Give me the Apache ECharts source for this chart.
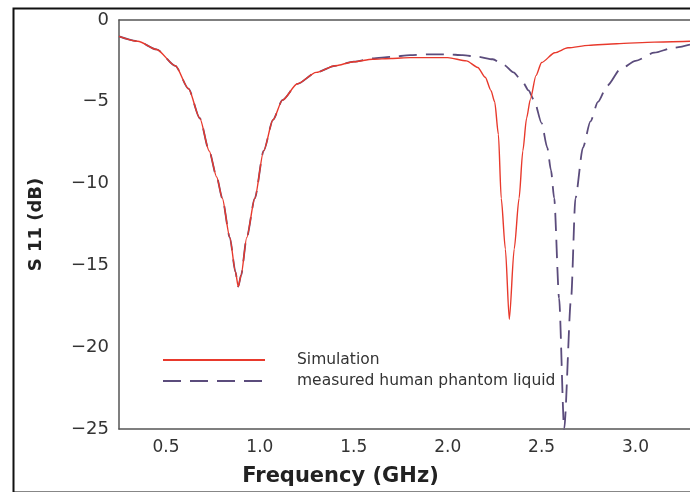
<!DOCTYPE html>
<html>
<head>
<meta charset="utf-8">
<script src="https://cdn.jsdelivr.net/npm/echarts@6/dist/echarts.min.js"></script>
<style>
  html, body { margin: 0; padding: 0; background: #ffffff; }
  #chart { width: 690px; height: 492px; }
</style>
</head>
<body>
<div id="chart"></div>
<script>
// Return loss of the antenna: simulated vs. measured in human phantom liquid
const seriesNames = ['Simulation', 'measured human phantom liquid'];

// Simulation (frequency in GHz, S11 in dB)
const freqSim = [0.25, 0.35, 0.45, 0.55, 0.62, 0.68, 0.73, 0.77, 0.80, 0.84, 0.87, 0.885, 0.90, 0.93, 0.973,
  1.02, 1.07, 1.12, 1.20, 1.30, 1.40, 1.50, 1.60, 1.70, 1.80, 1.90, 2.00, 2.10, 2.16, 2.20, 2.23, 2.25,
  2.27, 2.285, 2.307, 2.328, 2.354, 2.38, 2.40, 2.42, 2.44, 2.47, 2.50, 2.57, 2.64, 2.75, 2.90, 3.10, 3.29];
const s11Sim = [-1.0, -1.3, -1.8, -2.8, -4.2, -6.0, -8.0, -9.6, -10.9, -13.3, -15.4, -16.3, -15.6, -13.3, -10.9,
  -8.0, -6.1, -4.9, -3.9, -3.2, -2.8, -2.55, -2.4, -2.35, -2.3, -2.3, -2.3, -2.5, -2.9, -3.5, -4.3, -5.0,
  -7.0, -10.9, -14.0, -18.3, -14.0, -10.9, -8.0, -6.0, -4.85, -3.4, -2.6, -2.0, -1.7, -1.55, -1.45, -1.35, -1.3];

// Measurement in human phantom liquid
const freqMeas = [0.25, 0.35, 0.45, 0.55, 0.62, 0.68, 0.73, 0.77, 0.80, 0.84, 0.87, 0.885, 0.90, 0.93, 0.973,
  1.02, 1.07, 1.12, 1.20, 1.30, 1.40, 1.50, 1.60, 1.70, 1.80, 1.90, 2.00, 2.08, 2.16, 2.24, 2.30, 2.35,
  2.40, 2.43, 2.46, 2.50, 2.53, 2.55, 2.567, 2.593, 2.62, 2.657, 2.68, 2.72, 2.76, 2.80, 2.85, 2.92,
  3.00, 3.10, 3.20, 3.29];
const s11Meas = [-1.0, -1.3, -1.8, -2.8, -4.2, -6.0, -8.0, -9.6, -10.9, -13.3, -15.4, -16.3, -15.6, -13.3, -10.9,
  -8.0, -6.1, -4.9, -3.9, -3.2, -2.8, -2.55, -2.35, -2.25, -2.15, -2.1, -2.1, -2.15, -2.25, -2.4, -2.75, -3.2,
  -3.8, -4.3, -4.9, -6.3, -7.8, -9.2, -10.9, -17.0, -25.0, -17.0, -10.9, -7.8, -6.2, -5.0, -4.0, -3.0,
  -2.5, -2.0, -1.7, -1.5];

// Axis ranges and labelled ticks
const xMin = 0.25, xMax = 3.29, xStep = 0.25;
const xTickLabels = ['0.5', '1.0', '1.5', '2.0', '2.5', '3.0'];
const yMin = -25, yMax = 0, yStep = 5;

const zip = (xs, ys) => xs.map((x, i) => [x, ys[i]]);

const chart = echarts.init(document.getElementById('chart'), null, { renderer: 'canvas' });
const font = '"DejaVu Sans", sans-serif';
const axisColor = '#555555';

chart.setOption({
  backgroundColor: '#ffffff',
  animation: false,
  graphic: [{
    type: 'rect',
    left: 11, top: 6,
    shape: { width: 700, height: 484 },
    style: { fill: 'none', stroke: '#111111', lineWidth: 2 },
    silent: true
  }],
  grid: { left: 119, top: 20, right: 0, bottom: 60, show: false },
  legend: {
    orient: 'vertical',
    left: 157, top: 347,
    itemWidth: 102, itemHeight: 14, itemGap: 5,
    data: seriesNames,
    itemStyle: { opacity: 0 },
    textStyle: { fontFamily: font, fontSize: 15.5, color: '#333333', padding: [0, 0, 0, 27] }
  },
  xAxis: [
    {
      type: 'value',
      position: 'bottom',
      min: xMin, max: xMax, interval: xStep,
      name: 'Frequency (GHz)',
      nameLocation: 'middle',
      nameGap: 37,
      nameTextStyle: { fontFamily: font, fontSize: 21, fontWeight: 'bold', color: '#222222', padding: [0, 128, 0, 0] },
      axisLine: { show: true, onZero: false, lineStyle: { color: axisColor, width: 1.5 } },
      axisTick: { show: false },
      splitLine: { show: false },
      axisLabel: {
        margin: 10,
        fontFamily: font, fontSize: 17, color: '#333333',
        showMinLabel: false, showMaxLabel: false,
        formatter: v => {
          const s = v.toFixed(1);
          return xTickLabels.includes(s) && Math.abs(v * 2 - Math.round(v * 2)) < 1e-6 ? s : '';
        }
      }
    },
    {
      // top frame edge of the plot
      type: 'value',
      position: 'top',
      min: xMin, max: xMax, interval: xStep,
      axisLine: { show: true, onZero: false, lineStyle: { color: axisColor, width: 1.5 } },
      axisTick: { show: false },
      axisLabel: { show: false },
      splitLine: { show: false }
    }
  ],
  yAxis: {
    type: 'value',
    min: yMin, max: yMax, interval: yStep,
    name: 'S 11 (dB)',
    nameLocation: 'middle',
    nameGap: 74,
    nameTextStyle: { fontFamily: font, fontSize: 18, fontWeight: 'bold', color: '#222222' },
    axisLine: { show: true, onZero: false, lineStyle: { color: axisColor, width: 1.5 } },
    axisTick: { show: false },
    splitLine: { show: false },
    axisLabel: {
      margin: 10,
      fontFamily: font, fontSize: 18, color: '#333333',
      formatter: v => (v < 0 ? '\u2212' + Math.abs(v) : String(v))
    }
  },
  series: [
    {
      name: seriesNames[0],
      type: 'line',
      data: zip(freqSim, s11Sim),
      showSymbol: false, symbol: 'none',
      smooth: 0.25, smoothMonotone: 'x',
      lineStyle: { color: '#e8392c', width: 1.4 },
      itemStyle: { color: '#e8392c' },
      z: 3
    },
    {
      name: seriesNames[1],
      type: 'line',
      data: zip(freqMeas, s11Meas),
      showSymbol: false, symbol: 'none',
      smooth: 0.25, smoothMonotone: 'x',
      lineStyle: { color: '#5b4c7c', width: 1.8, type: [18, 9] },
      itemStyle: { color: '#5b4c7c' },
      z: 2
    }
  ]
});
</script>
</body>
</html>
